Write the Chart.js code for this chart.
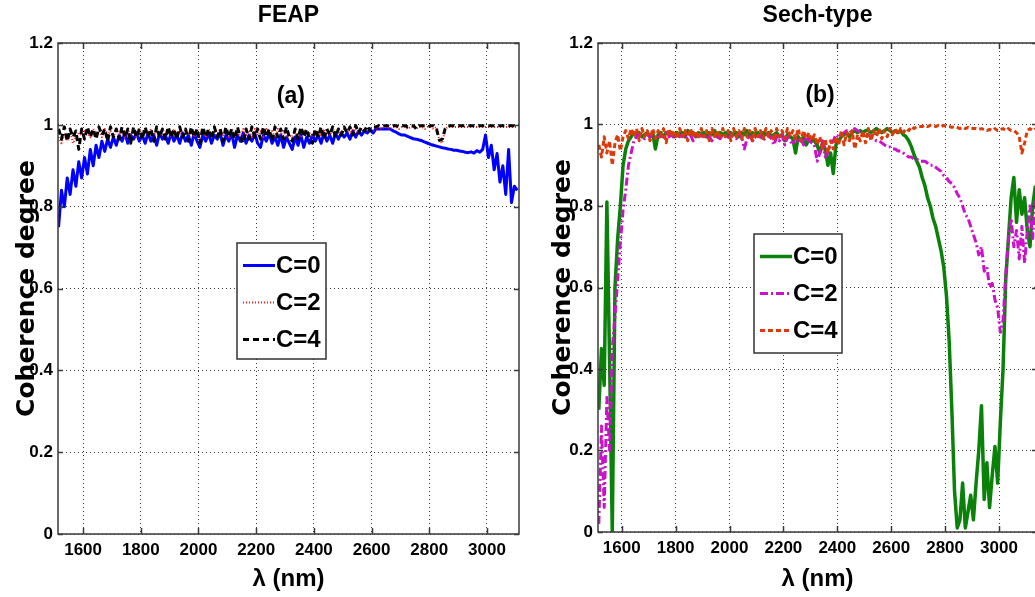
<!DOCTYPE html>
<html>
<head>
<meta charset="utf-8">
<title>Coherence degree - FEAP / Sech-type</title>
<script src="https://cdn.jsdelivr.net/npm/chart.js@4.4.1/dist/chart.umd.min.js"></script>
<style>
  html, body { margin: 0; padding: 0; background: #fff; overflow: hidden; }
  #wrap { position: relative; width: 1035px; height: 597px; overflow: hidden; }
  .panel { position: absolute; top: 0; height: 597px; width: 530px; }
  #left { left: 0; }
  #right { left: 530px; }
</style>
</head>
<body>
<div id="wrap">
  <div class="panel" id="left"><canvas id="feapChart"></canvas></div>
  <div class="panel" id="right"><canvas id="sechChart"></canvas></div>
</div>
<script>
const lambdaStart = 1515;
const lambdaStep = 10;

const xTicks = [1600, 1800, 2000, 2200, 2400, 2600, 2800, 3000];
const yTicks = [0, 0.2, 0.4, 0.6, 0.8, 1, 1.2];

// (a) FEAP, 1515 .. 3105 nm
const feapC0 = [
  0.75,0.84,0.8,0.87,0.83,0.89,0.85,0.91,0.87,0.92,
  0.88,0.94,0.9,0.95,0.92,0.96,0.935,0.965,0.945,0.97,
  0.95,0.975,0.96,0.98,0.955,0.975,0.965,0.98,0.96,0.975,
  0.955,0.98,0.96,0.975,0.95,0.98,0.965,0.975,0.955,0.98,
  0.96,0.975,0.955,0.98,0.96,0.975,0.95,0.98,0.96,0.945,
  0.975,0.96,0.98,0.955,0.975,0.965,0.98,0.95,0.975,0.96,
  0.98,0.945,0.975,0.96,0.98,0.955,0.975,0.96,0.98,0.955,
  0.945,0.975,0.96,0.98,0.955,0.97,0.95,0.975,0.945,0.97,
  0.955,0.94,0.97,0.95,0.975,0.945,0.97,0.955,0.975,0.96,
  0.975,0.955,0.98,0.96,0.975,0.955,0.98,0.965,0.98,0.97,
  0.98,0.965,0.985,0.97,0.985,0.975,0.985,0.98,0.99,0.98,
  0.99,0.99,0.99,0.99,0.99,0.99,0.985,0.982,0.978,0.975,
  0.975,0.972,0.969,0.966,0.965,0.963,0.961,0.958,0.955,0.952,
  0.95,0.948,0.946,0.944,0.943,0.941,0.94,0.938,0.938,0.936,
  0.935,0.933,0.932,0.934,0.931,0.937,0.933,0.94,0.975,0.92,
  0.95,0.89,0.93,0.86,0.9,0.83,0.94,0.81,0.85,0.84
];
const feapC2 = [
  0.97,0.955,0.98,0.96,0.985,0.955,0.97,0.98,0.975,0.985,
  0.98,0.97,0.99,0.975,0.985,0.97,0.99,0.975,0.985,0.97,
  0.99,0.975,0.985,0.97,0.99,0.975,0.985,0.97,0.99,0.975,
  0.985,0.97,0.99,0.975,0.985,0.97,0.99,0.975,0.985,0.97,
  0.99,0.975,0.985,0.97,0.99,0.975,0.985,0.97,0.99,0.975,
  0.985,0.97,0.99,0.975,0.985,0.97,0.99,0.975,0.985,0.97,
  0.99,0.975,0.985,0.97,0.99,0.975,0.985,0.97,0.99,0.975,
  0.985,0.97,0.99,0.975,0.985,0.97,0.99,0.975,0.985,0.97,
  0.975,0.97,0.985,0.975,0.97,0.985,0.975,0.98,0.97,0.985,
  0.98,0.975,0.99,0.98,0.975,0.99,0.98,0.985,0.98,0.99,
  0.985,0.98,0.99,0.985,0.98,0.99,0.985,0.99,0.99,0.985,
  0.99,0.995,0.99,0.995,0.995,0.99,0.995,0.995,0.99,0.995,
  0.995,0.99,0.995,0.995,0.99,0.995,0.995,0.99,0.995,0.995,
  0.99,0.995,0.96,0.955,0.99,0.995,0.995,0.995,0.995,0.995,
  0.995,0.995,0.995,0.995,0.995,0.995,0.995,0.995,0.995,0.995,
  0.995,0.995,0.995,0.995,0.995,0.995,0.995,0.995,0.995,0.995
];
const feapC4 = [
  0.99,0.965,0.995,0.96,0.99,0.97,0.985,0.94,0.99,0.965,
  0.995,0.97,0.99,0.965,0.995,0.975,0.99,0.96,0.995,0.97,
  0.99,0.965,0.995,0.97,0.99,0.955,0.995,0.97,0.99,0.965,
  0.995,0.97,0.99,0.96,0.995,0.97,0.99,0.965,0.995,0.97,
  0.99,0.965,0.995,0.97,0.99,0.96,0.995,0.97,0.99,0.955,
  0.995,0.97,0.99,0.965,0.995,0.97,0.99,0.96,0.995,0.97,
  0.99,0.965,0.995,0.97,0.955,0.99,0.965,0.995,0.97,0.99,
  0.965,0.995,0.97,0.99,0.96,0.995,0.97,0.99,0.965,0.995,
  0.97,0.96,0.99,0.965,0.995,0.97,0.99,0.965,0.955,0.99,
  0.97,0.995,0.965,0.99,0.975,0.995,0.97,0.99,0.975,0.995,
  0.98,0.995,0.975,0.998,0.98,0.995,0.985,0.998,0.985,0.995,
  0.995,0.998,0.995,0.998,0.998,0.995,0.998,0.998,0.995,0.998,
  0.998,0.995,0.998,0.998,0.99,0.998,0.998,0.998,0.995,0.998,
  0.998,0.99,0.962,0.965,0.99,0.998,0.998,0.998,0.998,0.998,
  0.998,0.998,0.998,0.998,0.998,0.998,0.998,0.998,0.998,0.998,
  0.998,0.998,0.998,0.998,0.998,0.998,0.998,0.998,0.998,0.998
];

// (b) Sech-type, 1515 .. 3135 nm
const sechC0 = [
  0.30,0.45,0.36,0.81,0.42,0.0,0.6,0.72,0.8,0.9,
  0.94,0.96,0.97,0.98,0.97,0.98,0.97,0.975,0.98,0.97,
  0.98,0.94,0.975,0.98,0.97,0.98,0.975,0.98,0.97,0.98,
  0.975,0.98,0.97,0.985,0.975,0.98,0.97,0.98,0.975,0.98,
  0.97,0.98,0.975,0.985,0.97,0.98,0.975,0.98,0.97,0.98,
  0.975,0.98,0.97,0.98,0.975,0.985,0.97,0.98,0.975,0.98,
  0.97,0.98,0.975,0.98,0.97,0.975,0.98,0.97,0.975,0.96,
  0.975,0.97,0.965,0.93,0.97,0.96,0.97,0.95,0.965,0.96,
  0.96,0.95,0.93,0.955,0.94,0.9,0.93,0.88,0.95,0.96,
  0.97,0.975,0.98,0.97,0.98,0.985,0.98,0.985,0.98,0.985,
  0.985,0.98,0.985,0.99,0.985,0.98,0.985,0.99,0.985,0.98,
  0.985,0.98,0.985,0.975,0.97,0.96,0.945,0.925,0.91,0.895,
  0.87,0.85,0.82,0.8,0.77,0.75,0.72,0.69,0.65,0.58,
  0.47,0.3,0.1,0.01,0.03,0.12,0.01,0.05,0.09,0.03,
  0.12,0.2,0.31,0.08,0.17,0.06,0.14,0.21,0.12,0.27,
  0.4,0.62,0.72,0.82,0.87,0.76,0.84,0.78,0.82,0.74,
  0.7,0.8,0.85
];
const sechC2 = [
  0.02,0.26,0.06,0.33,0.2,0.45,0.53,0.62,0.71,0.79,
  0.84,0.9,0.93,0.96,0.97,0.975,0.97,0.965,0.975,0.97,
  0.975,0.97,0.965,0.975,0.97,0.98,0.97,0.975,0.965,0.975,
  0.97,0.975,0.965,0.97,0.975,0.96,0.975,0.97,0.975,0.965,
  0.975,0.97,0.96,0.975,0.97,0.965,0.975,0.97,0.965,0.975,
  0.97,0.965,0.975,0.97,0.94,0.965,0.975,0.96,0.97,0.965,
  0.975,0.96,0.97,0.975,0.965,0.95,0.97,0.96,0.975,0.95,
  0.97,0.96,0.95,0.97,0.96,0.965,0.95,0.97,0.96,0.955,
  0.95,0.91,0.93,0.96,0.92,0.93,0.95,0.96,0.975,0.97,
  0.975,0.98,0.985,0.98,0.985,0.99,0.985,0.98,0.975,0.97,
  0.975,0.97,0.965,0.96,0.96,0.955,0.95,0.945,0.945,0.94,
  0.94,0.935,0.935,0.93,0.925,0.92,0.92,0.915,0.915,0.91,
  0.91,0.91,0.905,0.9,0.9,0.895,0.89,0.885,0.875,0.87,
  0.86,0.855,0.845,0.83,0.82,0.8,0.78,0.77,0.75,0.73,
  0.71,0.68,0.7,0.64,0.65,0.6,0.61,0.57,0.55,0.49,
  0.52,0.63,0.72,0.77,0.7,0.74,0.67,0.75,0.66,0.74,
  0.8,0.72,0.82
];
const sechC4 = [
  0.95,0.92,0.97,0.93,0.96,0.9,0.955,0.975,0.935,0.97,
  0.985,0.965,0.99,0.97,0.99,0.96,0.99,0.97,0.985,0.96,
  0.99,0.965,0.985,0.97,0.99,0.955,0.99,0.97,0.985,0.965,
  0.99,0.97,0.985,0.96,0.99,0.97,0.985,0.965,0.99,0.97,
  0.985,0.96,0.99,0.97,0.985,0.965,0.99,0.97,0.985,0.96,
  0.99,0.97,0.985,0.965,0.99,0.97,0.985,0.96,0.99,0.97,
  0.985,0.965,0.99,0.97,0.985,0.96,0.99,0.97,0.985,0.965,
  0.99,0.97,0.985,0.965,0.99,0.96,0.985,0.965,0.98,0.96,
  0.975,0.95,0.97,0.94,0.965,0.93,0.96,0.94,0.97,0.95,
  0.985,0.95,0.98,0.96,0.985,0.94,0.975,0.96,0.985,0.955,
  0.99,0.96,0.985,0.97,0.99,0.965,0.985,0.97,0.99,0.975,
  0.99,0.975,0.99,0.98,0.99,0.985,0.995,0.99,0.995,0.995,
  0.995,0.998,0.995,0.998,0.998,0.995,0.998,0.995,0.998,0.995,
  0.995,0.993,0.995,0.993,0.99,0.993,0.99,0.993,0.99,0.99,
  0.99,0.988,0.99,0.988,0.985,0.988,0.985,0.99,0.985,0.988,
  0.99,0.985,0.99,0.985,0.985,0.98,0.97,0.93,0.955,0.985,
  0.99,0.985,0.99
];

// ---- fonts ----
const sans = '"Liberation Sans", Arial, Helvetica, sans-serif';
const wide = '"DejaVu Sans", Verdana, sans-serif';

// matlab-like box: frame on four sides + inward ticks
const matlabBox = {
  id: 'matlabBox',
  afterDatasetsDraw(chart) {
    const { ctx, chartArea: a, scales: { x, y } } = chart;
    ctx.save();
    ctx.strokeStyle = '#3a3a3a';
    ctx.lineWidth = 1.5;
    ctx.strokeRect(a.left, a.top, a.right - a.left, a.bottom - a.top);
    ctx.beginPath();
    x.ticks.forEach(t => {
      const px = Math.round(x.getPixelForValue(t.value)) + 0.5;
      ctx.moveTo(px, a.bottom); ctx.lineTo(px, a.bottom - 6);
      ctx.moveTo(px, a.top); ctx.lineTo(px, a.top + 6);
    });
    y.ticks.forEach(t => {
      const py = Math.round(y.getPixelForValue(t.value)) + 0.5;
      ctx.moveTo(a.left, py); ctx.lineTo(a.left + 5, py);
      ctx.moveTo(a.right, py); ctx.lineTo(a.right - 5, py);
    });
    ctx.stroke();
    ctx.restore();
  }
};

// legend box drawn inside the axes, like matlab's
const boxLegend = {
  id: 'boxLegend',
  afterDraw(chart, args, o) {
    const { ctx, chartArea: a } = chart;
    const x0 = a.left + o.left, y0 = a.top + o.top;
    ctx.save();
    ctx.fillStyle = '#fff';
    ctx.fillRect(x0, y0, o.width, o.height);
    ctx.strokeStyle = '#333';
    ctx.lineWidth = 1.5;
    ctx.strokeRect(x0, y0, o.width, o.height);
    ctx.font = 'bold 24px ' + sans;
    ctx.textBaseline = 'middle';
    chart.data.datasets.forEach((ds, i) => {
      const yy = Math.round(y0 + 22 + 37 * i) + 0.5;
      ctx.beginPath();
      ctx.setLineDash(ds.borderDash || []);
      ctx.strokeStyle = ds.borderColor;
      ctx.lineWidth = ds.borderWidth;
      ctx.moveTo(x0 + 6, yy);
      ctx.lineTo(x0 + 38, yy);
      ctx.stroke();
      ctx.setLineDash([]);
      ctx.fillStyle = '#000';
      ctx.fillText(ds.label, x0 + 39, yy + 1);
    });
    ctx.restore();
  }
};

// "(a)" / "(b)" tag
const panelTag = {
  id: 'panelTag',
  afterDraw(chart, args, o) {
    const { ctx, scales: { x, y } } = chart;
    ctx.save();
    ctx.font = 'bold 23px ' + sans;
    ctx.fillStyle = '#000';
    ctx.textAlign = 'center';
    ctx.textBaseline = 'middle';
    ctx.fillText(o.text, x.getPixelForValue(o.at[0]), y.getPixelForValue(o.at[1]));
    ctx.restore();
  }
};

function buildPanel(canvasId, p) {
  const lambda = p.values[0].map((v, i) => lambdaStart + i * lambdaStep);
  return new Chart(document.getElementById(canvasId), {
    type: 'line',
    data: {
      datasets: p.labels.map((label, k) => ({
        label: label,
        data: lambda.map((l, i) => ({ x: l, y: p.values[k][i] })),
        borderColor: p.colors[k],
        borderWidth: p.widths[k],
        borderDash: p.dashes[k],
        order: p.order[k],
        pointRadius: 0,
        tension: 0,
        fill: false,
        borderJoinStyle: 'round'
      }))
    },
    options: {
      animation: false,
      responsive: true,
      maintainAspectRatio: false,
      layout: { padding: { left: 0, right: p.padRight, top: 0, bottom: 0 } },
      plugins: {
        legend: { display: false },
        tooltip: { enabled: false },
        title: {
          display: true,
          text: p.title,
          fullSize: false,
          color: '#000',
          font: { family: sans, size: 23, weight: 'bold', lineHeight: 1 },
          padding: { top: 4, bottom: 16 }
        },
        boxLegend: p.legendBox,
        panelTag: { text: p.tag, at: p.tagAt }
      },
      scales: {
        x: {
          type: 'linear',
          min: p.xMin,
          max: p.xMax,
          afterBuildTicks: ax => { ax.ticks = xTicks.map(v => ({ value: v })); },
          afterFit: ax => { ax.height = p.xAxisHeight; },
          ticks: {
            autoSkip: false, maxRotation: 0, padding: 6, color: '#000',
            font: { family: sans, size: 17, weight: 'bold' },
            callback: v => String(v)
          },
          grid: { color: '#3a3a3a', lineWidth: 1, drawTicks: false },
          border: { display: false, dash: [1, 3] },
          title: {
            display: true, text: 'λ (nm)', color: '#000',
            font: { family: sans, size: 24, weight: 'bold', lineHeight: 1 },
            padding: { top: 0, bottom: 6 }
          }
        },
        y: {
          min: 0,
          max: 1.2,
          afterBuildTicks: ax => { ax.ticks = yTicks.map(v => ({ value: v })); },
          afterFit: ax => { ax.width = p.yAxisWidth; },
          ticks: {
            padding: 5, color: '#000',
            font: { family: sans, size: 17, weight: 'bold' },
            callback: v => String(v)
          },
          grid: { color: '#3a3a3a', lineWidth: 1, drawTicks: false },
          border: { display: false, dash: [1, 3] },
          title: {
            display: true, text: 'Coherence degree', color: '#000',
            font: { family: wide, size: 25, weight: 'bold', lineHeight: 1 },
            padding: { top: p.yTitlePad, bottom: 0 }
          }
        }
      }
    },
    plugins: [matlabBox, boxLegend, panelTag]
  });
}

buildPanel('feapChart', {
  title: 'FEAP',
  tag: '(a)', tagAt: [2320, 1.07],
  labels: ['C=0', 'C=2', 'C=4'],
  values: [feapC0, feapC2, feapC4],
  colors: ['#0000ff', '#ff1a1a', '#000000'],
  widths: [3, 2, 3],
  dashes: [[], [1, 2], [6, 4]],
  order: [2, 1, 0],
  xMin: 1513, xMax: 3111,
  padRight: 11, yAxisWidth: 58, xAxisHeight: 63, yTitlePad: 15,
  legendBox: { left: 179, top: 200, width: 89, height: 116 }
});

buildPanel('sechChart', {
  title: 'Sech-type',
  tag: '(b)', tagAt: [2336, 1.07],
  labels: ['C=0', 'C=2', 'C=4'],
  values: [sechC0, sechC2, sechC4],
  colors: ['#0a820a', '#cc11cc', '#dd3a0a'],
  widths: [3.5, 3, 3],
  dashes: [[], [8, 3, 2, 3], [5, 3]],
  order: [2, 1, 0],
  xMin: 1512, xMax: 3141,
  padRight: 23, yAxisWidth: 68, xAxisHeight: 65, yTitlePad: 21,
  legendBox: { left: 156, top: 191, width: 88, height: 119 }
});
</script>
</body>
</html>
